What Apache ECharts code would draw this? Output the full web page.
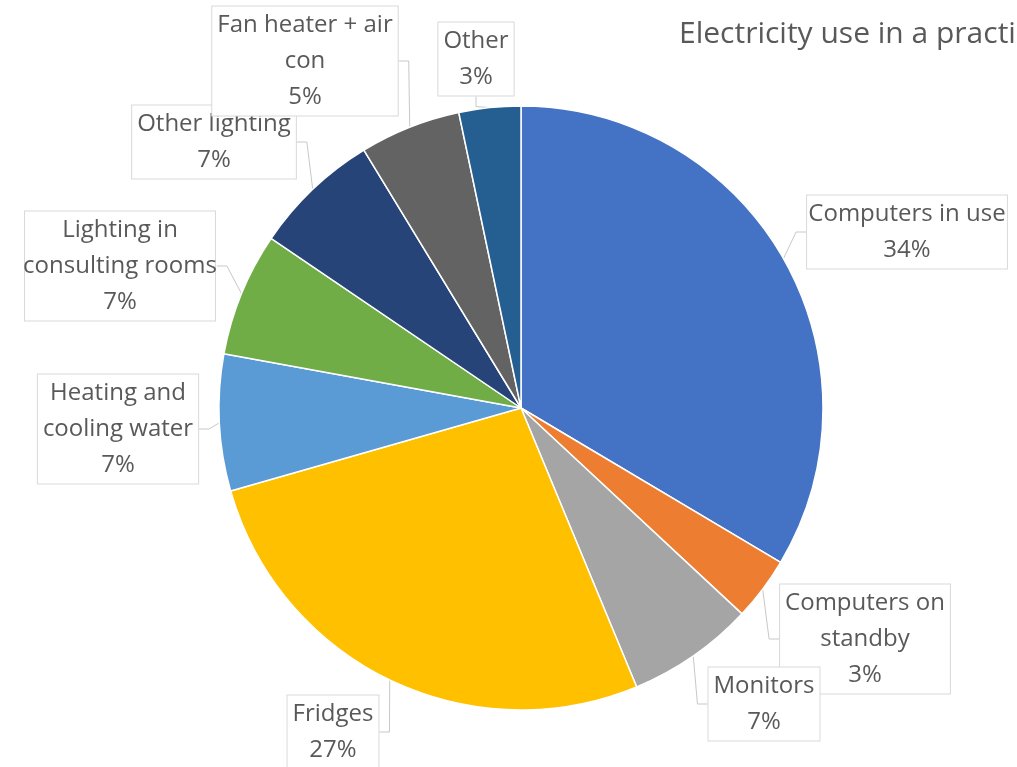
<!DOCTYPE html>
<html>
<head>
<meta charset="utf-8">
<script src="https://cdn.jsdelivr.net/npm/echarts@6/dist/echarts.min.js"></script>
<style>
html,body{margin:0;padding:0;background:#fff;}
#chart{width:1017px;height:767px;}
</style>
</head>
<body>
<div id="chart"></div>
<script>
var titleText = 'Electricity use in a practice';
var categories = ['Computers in use','Computers on standby','Monitors','Fridges','Heating and cooling water','Lighting in consulting rooms','Other lighting','Fan heater + air con','Other'];
var values = [33.5, 3.4, 6.8, 26.8, 7.3, 6.6, 6.8, 5.4, 3.3];
var colors = ['#4472C4','#ED7D31','#A5A5A5','#FFC000','#5B9BD5','#70AD47','#264478','#636363','#255E91'];
// how each label wraps, as in the reference
var wrapped = {
  'Computers on standby': 'Computers on\nstandby',
  'Heating and cooling water': 'Heating and\ncooling water',
  'Lighting in consulting rooms': 'Lighting in\nconsulting rooms',
  'Fan heater + air con': 'Fan heater + air\ncon'
};
// label box centres (layout only)
var labelPos = [[907,232],[865,639],[764,704],[333,732],[118,429],[120,266],[214,142],[305,61],[476,59]];

var chart = echarts.init(document.getElementById('chart'));
chart.setOption({
  backgroundColor: '#fff',
  animation: false,
  title: {
    text: titleText, left: 674, top: 14,
    textStyle: {fontFamily: 'Open Sans', fontWeight: 'normal', fontSize: 30, color: '#595959'}
  },
  color: colors,
  series: [{
    type: 'pie',
    center: [521, 408],
    radius: 302,
    startAngle: 90,
    clockwise: true,
    data: categories.map(function(c, i){ return {name: c, value: values[i]}; }),
    itemStyle: {borderColor: '#fff', borderWidth: 1.5},
    label: {
      show: true,
      position: 'outside',
      overflow: 'none',
      formatter: function(p){ return (wrapped[p.name] || p.name) + '\n' + Math.round(p.percent) + '%'; },
      fontFamily: 'Open Sans', fontSize: 24, color: '#595959', lineHeight: 36,
      backgroundColor: '#fff', borderColor: '#d9d9d9', borderWidth: 1,
      padding: [1, 5, 0, 5], align: 'center'
    },
    labelLine: {show: true, length: 10, length2: 10, lineStyle: {color: '#c8c8c8', width: 1}},
    labelLayout: function(params){
      var p = labelPos[params.dataIndex];
      return {x: p[0], y: p[1], align: 'center', verticalAlign: 'middle'};
    },
    emphasis: {disabled: true}
  }]
});
</script>
</body>
</html>
